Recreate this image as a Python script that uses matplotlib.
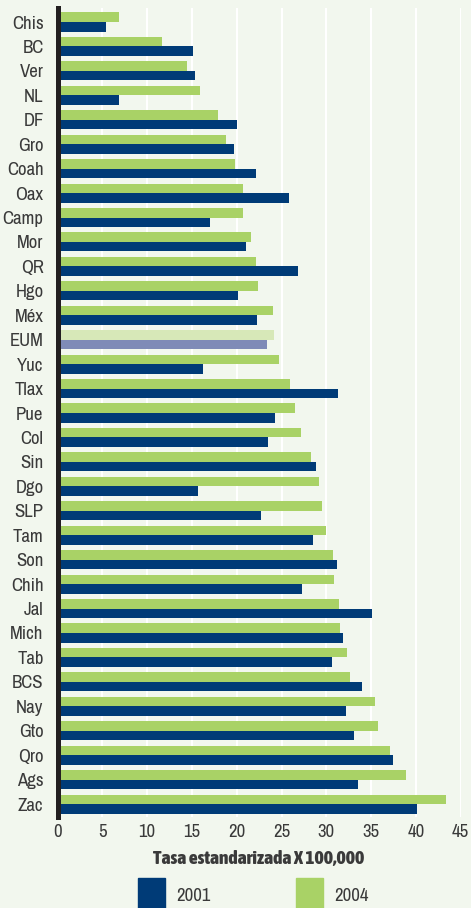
import matplotlib
matplotlib.use("Agg")
import matplotlib.pyplot as plt
from matplotlib.patches import Rectangle
from matplotlib import font_manager as fm
import numpy as np

states = ["Chis", "BC", "Ver", "NL", "DF", "Gro", "Coah", "Oax", "Camp", "Mor", "QR",
          "Hgo", "Méx", "EUM", "Yuc", "Tlax", "Pue", "Col", "Sin", "Dgo", "SLP", "Tam",
          "Son", "Chih", "Jal", "Mich", "Tab", "BCS", "Nay", "Gto", "Qro", "Ags", "Zac"]
v2004 = [6.9, 11.7, 14.4, 15.9, 17.9, 18.8, 19.8, 20.7, 20.7, 21.6, 22.2,
         22.4, 24.0, 24.2, 24.7, 25.9, 26.5, 27.2, 28.3, 29.2, 29.5, 30.0,
         30.7, 30.9, 31.4, 31.5, 32.3, 32.6, 35.4, 35.8, 37.1, 38.9, 43.4]
v2001 = [5.4, 15.1, 15.4, 6.9, 20.0, 19.7, 22.2, 25.8, 17.0, 21.0, 26.8,
         20.1, 22.3, 23.4, 16.2, 31.3, 24.3, 23.5, 28.9, 15.7, 22.7, 28.5,
         31.2, 27.3, 35.1, 31.9, 30.6, 34.0, 32.2, 33.1, 37.5, 33.5, 40.1]
xticks = [0, 5, 10, 15, 20, 25, 30, 35, 40, 45]
series_labels = ["2001", "2004"]
highlight = "EUM"

BG = "#F2F7EE"
BLUE = "#003B77"
GREEN = "#A9D266"
BLUE_L = "#7F8BB7"
GREEN_L = "#D7E8B8"
TXT = "#3A3A3A"

avail = {f.name for f in fm.fontManager.ttflist}
def pick(*names):
    return [n for n in names if n in avail] + ["DejaVu Sans"]
FONT = pick("Archivo Narrow", "Asap Condensed", "Barlow Semi Condensed")
BOLD = pick("Asap Condensed", "Barlow Semi Condensed", "Archivo Narrow")
plt.rcParams["font.family"] = FONT

fig = plt.figure(figsize=(4.71, 9.08), dpi=100, facecolor=BG)
ax = fig.add_axes([57.5/471, 91/908, 403.2/471, 809/908], facecolor=BG)

y = np.arange(len(states))
h = 0.39
c04 = [GREEN_L if s == highlight else GREEN for s in states]
c01 = [BLUE_L if s == highlight else BLUE for s in states]
ax.barh(y - h/2, v2004, height=h, color=c04, zorder=3)
ax.barh(y + h/2, v2001, height=h, color=c01, zorder=3)

ax.set_xlim(0, 45)
ax.set_ylim(32.53, -0.573)
ax.set_xticks(xticks)
ax.set_yticks(y)
ax.set_yticklabels(states)
ax.grid(axis="x", color="white", linewidth=1.5, zorder=1)
ax.grid(axis="y", visible=False)
for s in ["top", "right", "bottom"]:
    ax.spines[s].set_visible(False)
ax.spines["left"].set_color("#231F20")
ax.spines["left"].set_linewidth(3.6)
ax.spines["left"].set_zorder(5)
ax.tick_params(axis="both", length=0, labelsize=13.5, labelcolor=TXT)
ax.tick_params(axis="y", pad=10)
ax.tick_params(axis="x", pad=5)
ax.set_xlabel("Tasa estandarizada X 100,000", fontsize=14, fontweight=800,
              color=TXT, labelpad=7, family=BOLD)

# legend
fig.patches.append(Rectangle((138/471, 0), 27/471, 30/908, transform=fig.transFigure,
                             color=BLUE, zorder=3))
fig.patches.append(Rectangle((296/471, 0), 27/471, 30/908, transform=fig.transFigure,
                             color=GREEN, zorder=3))
fig.text(176/471, 12/908, series_labels[0], fontsize=13.5, color=TXT, va="center", ha="left")
fig.text(334/471, 12/908, series_labels[1], fontsize=13.5, color=TXT, va="center", ha="left")

fig.savefig("out.png", dpi=100, facecolor=BG)
